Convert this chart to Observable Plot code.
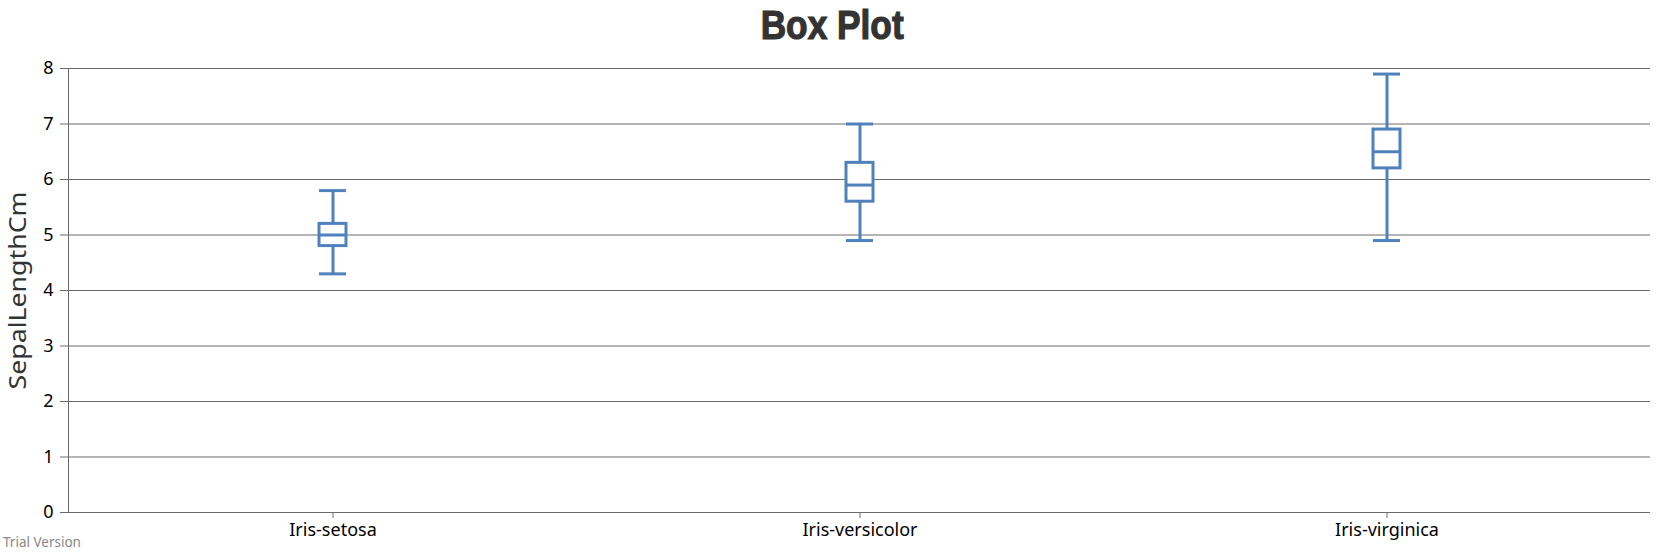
<!DOCTYPE html>
<html>
<head>
<meta charset="utf-8">
<script src="https://cdn.jsdelivr.net/npm/d3@7"></script>
<script src="https://cdn.jsdelivr.net/npm/@observablehq/plot@0.6"></script>
<style>
  html, body { margin: 0; padding: 0; background: #fff; }
  #wrap { position: relative; width: 1665px; height: 555px; overflow: hidden; }
  #title { height: 50px; text-align: center; font-family: "Liberation Sans", Arial, sans-serif; font-weight: bold; font-size: 41px; line-height: 50px; color: #333; }
  #title span { display: inline-block; transform: scaleX(0.86); -webkit-text-stroke: 1.2px #333; }
  #trial { position: absolute; left: 3px; top: 533px; font-family: "Noto Sans", sans-serif; font-size: 13.5px; color: #888; }
</style>
</head>
<body>
<div id="wrap">
  <div id="title"><span>Box Plot</span></div>
  <div id="chart"></div>
  <div id="trial">Trial Version</div>
</div>
<script>
const species = ["Iris-setosa", "Iris-versicolor", "Iris-virginica"];
const minVals = [4.3, 4.9, 4.9];
const q1Vals = [4.8, 5.6, 6.2];
const medianVals = [5.0, 5.9, 6.5];
const q3Vals = [5.2, 6.3, 6.9];
const maxVals = [5.8, 7.0, 7.9];
const yTicks = [0, 1, 2, 3, 4, 5, 6, 7, 8];
const yLabel = "SepalLengthCm";

const data = species.map((s, i) => ({
  species: s, min: minVals[i], q1: q1Vals[i], median: medianVals[i], q3: q3Vals[i], max: maxVals[i]
}));

const blue = "#4f81bd";
const grid = "#6a6a6a";
const pi = 0.949;

const chart = Plot.plot({
  width: 1665,
  height: 505,
  marginTop: 18,
  marginBottom: 43,
  marginLeft: 68,
  marginRight: 15,
  style: { fontFamily: "Noto Sans, sans-serif", fontSize: "18px", color: "#000", background: "#fff" },
  x: { type: "band", domain: species, paddingInner: pi, paddingOuter: pi / 2, label: null },
  y: { domain: [0, 8], ticks: yTicks, label: null },
  marks: [
    Plot.gridY(yTicks, { stroke: grid, strokeOpacity: 1, strokeWidth: 1 }),
    Plot.frame({ anchor: "left", stroke: grid, strokeWidth: 1 }),
    Plot.axisY(yTicks, { tickSize: 8, tickPadding: 7, stroke: grid, fontSize: 18, tickFormat: "d", label: null }),
    Plot.axisX({ tickSize: 6, tickPadding: 5, stroke: grid, fontSize: 18, label: null }),
    Plot.ruleY([0], { stroke: grid, strokeWidth: 1 }),
    Plot.ruleX(data, { x: "species", y1: "min", y2: "q1", stroke: blue, strokeWidth: 3 }),
    Plot.ruleX(data, { x: "species", y1: "q3", y2: "max", stroke: blue, strokeWidth: 3 }),
    Plot.tickY(data, { x: "species", y: "min", stroke: blue, strokeWidth: 3 }),
    Plot.tickY(data, { x: "species", y: "max", stroke: blue, strokeWidth: 3 }),
    Plot.barY(data, { x: "species", y1: "q1", y2: "q3", fill: "#fff", stroke: blue, strokeWidth: 3 }),
    Plot.tickY(data, { x: "species", y: "median", stroke: blue, strokeWidth: 3 }),
    Plot.text([yLabel], { frameAnchor: "left", dx: -50, rotate: -90, fontSize: 24, fill: "#333", textAnchor: "middle", className: "ylab" })
  ]
});
d3.select(chart).selectAll(".ylab text")
  .attr("textLength", 198)
  .attr("lengthAdjust", "spacingAndGlyphs");
document.getElementById("chart").appendChild(chart);
</script>
</body>
</html>
